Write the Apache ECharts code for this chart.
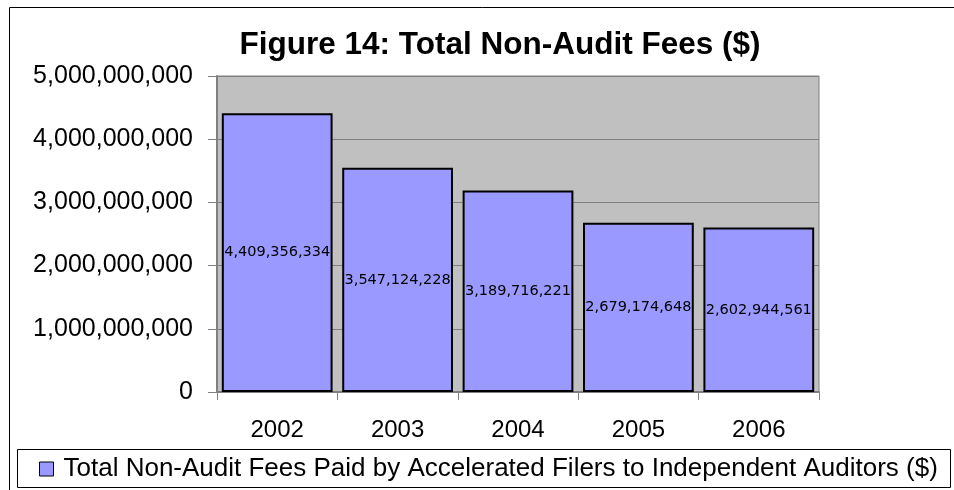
<!DOCTYPE html>
<html>
<head>
<meta charset="utf-8">
<script src="https://cdn.jsdelivr.net/npm/echarts@6/dist/echarts.min.js"></script>
<style>
  html, body { margin: 0; padding: 0; background: #fff; }
  #chart { width: 954px; height: 490px; }
</style>
</head>
<body>
<div id="chart"></div>
<script>
// data
const years = ['2002', '2003', '2004', '2005', '2006'];
const fees = [4409356334, 3547124228, 3189716221, 2679174648, 2602944561];
const seriesName = 'Total Non-Audit Fees Paid by Accelerated Filers to Independent Auditors ($)';

function withCommas(v) {
  return String(v).replace(/\B(?=(\d{3})+(?!\d))/g, ',');
}

const myChart = echarts.init(document.getElementById('chart'));

const option = {
  animation: false,
  backgroundColor: '#fff',
  textStyle: { fontFamily: '"Liberation Sans", Arial, sans-serif' },
  title: {
    text: 'Figure 14: Total Non-Audit Fees ($)',
    left: 495,
    textAlign: 'center',
    top: 24,
    textStyle: { fontSize: 31.5, fontWeight: 'bold', color: '#000', fontFamily: '"Liberation Sans", Arial, sans-serif' }
  },
  graphic: [
    // outer chart border
    {
      type: 'rect',
      shape: { x: 9.5, y: 7.5, width: 1000, height: 600 },
      style: { fill: 'none', stroke: '#000', lineWidth: 1 },
      silent: true
    },
    // legend box
    {
      type: 'rect',
      z: -1,
      shape: { x: 17.5, y: 449.5, width: 933, height: 38 },
      style: { fill: '#fff', stroke: '#000', lineWidth: 1 },
      silent: true
    }
  ],
  legend: {
    left: 39,
    top: 456,
    padding: 0,
    itemWidth: 14,
    itemHeight: 14,
    icon: 'rect',
    textStyle: { fontSize: 26, color: '#000', padding: [0, 0, 0, 5], fontFamily: '"Liberation Sans", Arial, sans-serif' },
    itemStyle: { borderColor: '#000', borderWidth: 1 }
  },
  grid: {
    left: 217,
    right: 135,
    top: 76,
    bottom: 98,
    show: true,
    backgroundColor: '#C0C0C0',
    borderColor: '#808080',
    borderWidth: 1
  },
  xAxis: {
    type: 'category',
    data: years,
    axisLine: { lineStyle: { color: '#808080', width: 2 } },
    axisTick: { show: true, length: 8, lineStyle: { color: '#808080' } },
    axisLabel: { fontSize: 24, color: '#000', margin: 26 }
  },
  yAxis: {
    type: 'value',
    min: 0,
    max: 5000000000,
    interval: 1000000000,
    axisLine: { show: true, lineStyle: { color: '#808080', width: 2 } },
    axisTick: { show: true, length: 9, lineStyle: { color: '#808080' } },
    splitLine: { lineStyle: { color: '#808080', width: 1 } },
    axisLabel: { fontSize: 25, color: '#000', margin: 24, formatter: withCommas }
  },
  series: [{
    name: seriesName,
    type: 'bar',
    data: fees,
    barCategoryGap: '8%',
    itemStyle: { color: '#9999FF', borderColor: '#000', borderWidth: 2 },
    label: {
      show: true,
      position: 'inside',
      color: '#000',
      fontSize: 14.5,
      fontFamily: '"DejaVu Sans", Verdana, sans-serif',
      formatter: p => withCommas(p.value)
    }
  }]
};

myChart.setOption(option);
</script>
</body>
</html>
